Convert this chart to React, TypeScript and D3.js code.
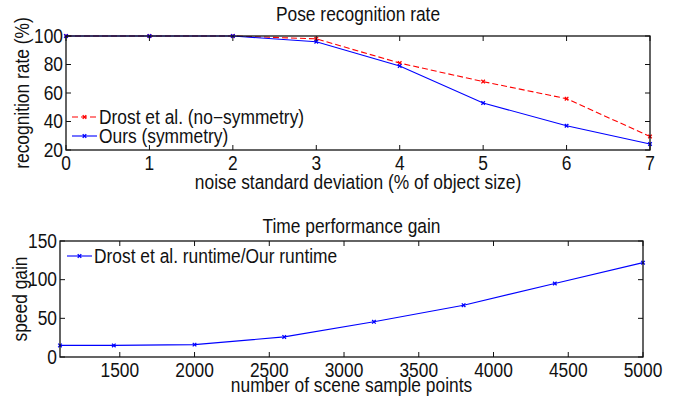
import React, { useRef, useEffect } from "react";
import * as d3 from "d3";

// top panel: recognition rate vs noise
const noiseLevels = [0, 1, 2, 3, 4, 5, 6, 7];
const drostRate = [100, 100, 100, 98, 81, 68, 56, 29.5];
const oursRate = [100, 100, 100, 96, 79, 53, 37, 24.2];
const noiseTicks = [0, 1, 2, 3, 4, 5, 6, 7];
const rateTicks = [20, 40, 60, 80, 100];

// bottom panel: speed gain vs sample points
const samplePoints = [1100, 1460, 2000, 2600, 3200, 3800, 4410, 5000];
const speedGain = [15, 15, 16, 26, 45.5, 67, 95, 122];
const sampleTicks = [1500, 2000, 2500, 3000, 3500, 4000, 4500, 5000];
const gainTicks = [0, 50, 100, 150];

const W = 681;
const H = 396;
const FONT = "'Liberation Sans', Arial, Helvetica, sans-serif";
const FS = 19.3;
const SX = 0.9; // glyphs in the original are a bit narrow

type G = d3.Selection<SVGGElement, unknown, null, undefined>;
type Series = { xs: number[]; ys: number[]; color: string; dash?: string; label: string };

// text with horizontal squeeze, optional rotation
function addText(g: G, x: number, y: number, str: string, anchor = "start", rot = 0) {
  g.append("text")
    .attr("transform", `translate(${x},${y}) rotate(${rot}) scale(${SX},1)`)
    .attr("text-anchor", anchor)
    .text(str);
}

function drawPanel(
  svg: d3.Selection<SVGSVGElement, unknown, null, undefined>,
  opts: {
    box: { x0: number; x1: number; y0: number; y1: number };
    xDomain: [number, number];
    yDomain: [number, number];
    xTicks: number[];
    yTicks: number[];
    title: string;
    xLabel: string;
    yLabel: string;
    series: Series[];
    legend: { x: number; y: number; step: number };
    off: { title: number; tick: number; xlab: number; ylab: number };
  }
) {
  const { box, off } = opts;
  const x = d3.scaleLinear().domain(opts.xDomain).range([box.x0, box.x1]);
  const y = d3.scaleLinear().domain(opts.yDomain).range([box.y1, box.y0]);
  const g = svg.append("g");
  const tickLen = 5;

  // data lines
  opts.series.forEach(s => {
    const pts = s.xs.map((v, i) => [v, s.ys[i]] as [number, number]);
    const line = d3.line<[number, number]>().x(d => x(d[0])).y(d => y(d[1]));
    g.append("path")
      .attr("d", line(pts)!)
      .attr("fill", "none")
      .attr("stroke", s.color)
      .attr("stroke-width", 1.1)
      .attr("stroke-dasharray", s.dash ?? null);
    g.selectAll(null)
      .data(pts)
      .enter()
      .append("path")
      .attr("transform", d => `translate(${x(d[0])},${y(d[1])})`)
      .attr("d", d3.symbol(d3.symbolTimes, 10)()!)
      .attr("fill", "none")
      .attr("stroke", s.color)
      .attr("stroke-width", 1.3);
  });

  // frame
  g.append("rect")
    .attr("x", box.x0)
    .attr("y", box.y0)
    .attr("width", box.x1 - box.x0)
    .attr("height", box.y1 - box.y0)
    .attr("fill", "none")
    .attr("stroke", "#111")
    .attr("stroke-width", 1.3);

  // inward ticks on all sides
  opts.xTicks.forEach(t => {
    const px = x(t);
    g.append("line").attr("x1", px).attr("x2", px).attr("y1", box.y1).attr("y2", box.y1 - tickLen).attr("stroke", "#111");
    g.append("line").attr("x1", px).attr("x2", px).attr("y1", box.y0).attr("y2", box.y0 + tickLen).attr("stroke", "#111");
    addText(g, px, box.y1 + off.tick, String(t), "middle");
  });
  opts.yTicks.forEach(t => {
    const py = y(t);
    g.append("line").attr("x1", box.x0).attr("x2", box.x0 + tickLen).attr("y1", py).attr("y2", py).attr("stroke", "#111");
    g.append("line").attr("x1", box.x1).attr("x2", box.x1 - tickLen).attr("y1", py).attr("y2", py).attr("stroke", "#111");
    addText(g, box.x0 - 3, py + 6.5, String(t), "end");
  });

  const cx = (box.x0 + box.x1) / 2;
  const cy = (box.y0 + box.y1) / 2;
  addText(g, cx, box.y0 - off.title, opts.title, "middle");
  addText(g, cx, box.y1 + off.xlab, opts.xLabel, "middle");
  addText(g, off.ylab, cy, opts.yLabel, "middle", -90);

  // legend
  opts.series.forEach((s, i) => {
    const ly = opts.legend.y + i * opts.legend.step;
    const lx = opts.legend.x;
    g.append("line")
      .attr("x1", lx).attr("x2", lx + 25)
      .attr("y1", ly).attr("y2", ly)
      .attr("stroke", s.color)
      .attr("stroke-width", 1.1)
      .attr("stroke-dasharray", s.dash ?? null);
    g.append("path")
      .attr("transform", `translate(${lx + 12.5},${ly})`)
      .attr("d", d3.symbol(d3.symbolTimes, 10)()!)
      .attr("stroke", s.color)
      .attr("stroke-width", 1.3);
    addText(g, lx + 27, ly + 7, s.label);
  });
}

export default function App() {
  const ref = useRef<SVGSVGElement>(null);

  useEffect(() => {
    if (!ref.current) return;
    const svg = d3.select(ref.current);
    svg.selectAll("*").remove();
    svg.attr("font-family", FONT).attr("font-size", FS).attr("fill", "#111");

    drawPanel(svg, {
      box: { x0: 66, x1: 650, y0: 36, y1: 150 },
      xDomain: [0, 7],
      yDomain: [20, 100],
      xTicks: noiseTicks,
      yTicks: rateTicks,
      title: "Pose recognition rate",
      xLabel: "noise standard deviation (% of object size)",
      yLabel: "recognition rate (%)",
      series: [
        { xs: noiseLevels, ys: drostRate, color: "#ff0000", dash: "6,3", label: "Drost et al. (no\u2212symmetry)" },
        { xs: noiseLevels, ys: oursRate, color: "#0000ff", label: "Ours (symmetry)" },
      ],
      legend: { x: 72, y: 117, step: 19 },
      off: { title: 15, tick: 20, xlab: 39, ylab: 29 },
    });

    drawPanel(svg, {
      box: { x0: 60, x1: 643, y0: 241, y1: 357 },
      xDomain: [1100, 5000],
      yDomain: [0, 150],
      xTicks: sampleTicks,
      yTicks: gainTicks,
      title: "Time performance gain",
      xLabel: "number of scene sample points",
      yLabel: "speed gain",
      series: [{ xs: samplePoints, ys: speedGain, color: "#0000ff", label: "Drost et al. runtime/Our runtime" }],
      legend: { x: 67, y: 256, step: 19 },
      off: { title: 8, tick: 20, xlab: 35, ylab: 27 },
    });
  }, []);

  return (
    <svg
      ref={ref}
      width={W}
      height={H}
      style={{ position: "absolute", left: 0, top: 0, background: "#fff" }}
    />
  );
}
